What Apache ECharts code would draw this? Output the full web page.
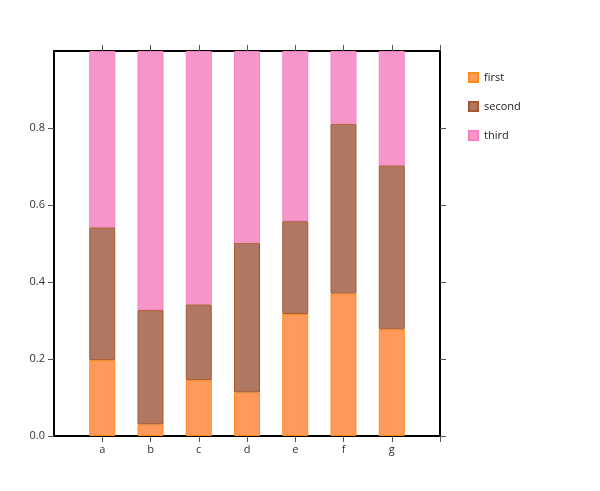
<!DOCTYPE html>
<html><head><meta charset="utf-8">
<script src="https://cdn.jsdelivr.net/npm/echarts@6/dist/echarts.min.js"></script>
<style>html,body{margin:0;padding:0;background:#fff}#c{width:600px;height:491px}</style>
</head><body><div id="c"></div>
<script>
const categories = ['a','b','c','d','e','f','g'];
const firstVals  = [0.197, 0.030, 0.145, 0.113, 0.317, 0.370, 0.277];
const secondVals = [0.345, 0.297, 0.197, 0.389, 0.241, 0.441, 0.426];
const thirdVals  = [0.458, 0.673, 0.658, 0.498, 0.442, 0.189, 0.297];
const yTicks = [0, 0.2, 0.4, 0.6, 0.8];

// pad one empty slot on each side so the axis runs from -1 to 7
const axisCats = [''].concat(categories, ['']);
const pad = arr => [null].concat(arr, [null]);
const font = 'Open Sans';
const xTick = {show:true, length:6, inside:false, interval:(i)=>i!==0, lineStyle:{color:'#555', width:1}};
const yTick = {show:true, length:6, inside:false, customValues:yTicks, lineStyle:{color:'#555', width:1}};
const lineStyle = {show:true, onZero:false, lineStyle:{color:'#000', width:2}};
const chart = echarts.init(document.getElementById('c'));
chart.setOption({
  animation:false,
  grid:{left:54,right:160,top:51,bottom:55},
  legend:{
    orient:'vertical', left:463, top:67, itemGap:18, itemWidth:9, itemHeight:9,
    icon:'rect',
    textStyle:{fontFamily:font, fontSize:11, color:'#222', padding:[0,0,0,1]},
    data:['first','second','third']
  },
  xAxis:[{
    type:'category', data:axisCats, boundaryGap:false, position:'bottom',
    axisLine:lineStyle, axisTick:xTick, splitLine:{show:false},
    axisLabel:{fontFamily:font, fontSize:11, color:'#333', margin:8, interval:0}
  },{
    type:'category', data:axisCats, boundaryGap:false, position:'top',
    axisLine:lineStyle, axisTick:xTick, splitLine:{show:false}, axisLabel:{show:false}
  }],
  yAxis:[{
    type:'value', min:0, max:1, interval:0.2, position:'left',
    axisLine:lineStyle, axisTick:yTick, splitLine:{show:false},
    axisLabel:{fontFamily:font, fontSize:11, color:'#333', margin:9, customValues:yTicks,
      formatter:v=> v.toFixed(1)}
  },{
    type:'value', min:0, max:1, interval:0.2, position:'right',
    axisLine:lineStyle, axisTick:yTick, splitLine:{show:false}, axisLabel:{show:false}
  }],
  series:[
    {name:'first', type:'bar', stack:'t', barWidth:26, data:pad(firstVals),
     itemStyle:{color:'#ff9a5c', borderColor:'#ff8a16', borderWidth:1}},
    {name:'second', type:'bar', stack:'t', barWidth:26, data:pad(secondVals),
     itemStyle:{color:'#b07862', borderColor:'#a8582e', borderWidth:1}},
    {name:'third', type:'bar', stack:'t', barWidth:26, data:pad(thirdVals),
     itemStyle:{color:'#f796c8', borderColor:'#f781bf', borderWidth:1}}
  ]
});
</script></body></html>
